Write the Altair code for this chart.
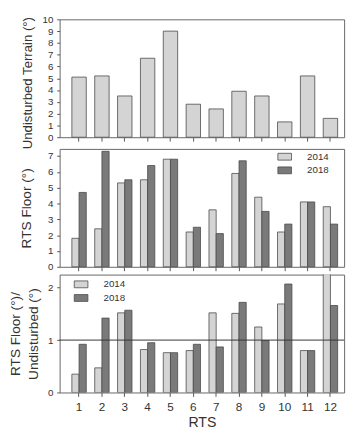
import altair as alt
import pandas as pd

rts = list(range(1, 13))
years = ["2014", "2018"]
undisturbed = [5.1, 5.2, 3.5, 6.7, 9.0, 2.8, 2.4, 3.9, 3.5, 1.3, 5.2, 1.6]
floor_2014 = [1.8, 2.4, 5.3, 5.5, 6.8, 2.2, 3.6, 5.9, 4.4, 2.2, 4.1, 3.8]
floor_2018 = [4.7, 7.3, 5.5, 6.4, 6.8, 2.5, 2.1, 6.7, 3.5, 2.7, 4.1, 2.7]
ratio_2014 = [0.35, 0.47, 1.52, 0.82, 0.76, 0.80, 1.52, 1.51, 1.25, 1.69, 0.80, 2.38]
ratio_2018 = [0.92, 1.42, 1.57, 0.95, 0.76, 0.92, 0.87, 1.72, 0.99, 2.07, 0.80, 1.66]
reference_line = [1]

LIGHT = "#d4d4d4"
DARK = "#7a7a7a"
STROKE = "#4a4a4a"
FONT = "Liberation Sans"
W, H = 292, 121

df1 = pd.DataFrame({"RTS": rts, "value": undisturbed})
df2 = pd.DataFrame({"RTS": rts * 2, "year": [years[0]] * 12 + [years[1]] * 12,
                    "value": floor_2014 + floor_2018})
df3 = pd.DataFrame({"RTS": rts * 2, "year": [years[0]] * 12 + [years[1]] * 12,
                    "value": ratio_2014 + ratio_2018})
dfr = pd.DataFrame({"y": reference_line})

xscale = alt.Scale(paddingInner=0.37, paddingOuter=0.41, align=0.653)


def xaxis(show):
    if show:
        return alt.Axis(title="RTS", labelAngle=0, domain=False, tickSize=4,
                        tickColor="#555", labelFontSize=12, labelPadding=6,
                        titleFontSize=14.5, titleFontWeight="normal", titlePadding=3,
                        labelColor="#333", titleColor="#333")
    return alt.Axis(title=None, labels=False, domain=False, tickSize=4, tickColor="#555")


def yaxis(title, values, tx, tsize=14, ty=None):
    kw = {} if ty is None else {"titleY": ty}
    return alt.Axis(title=title, values=values, format="d", domain=False, grid=False,
                    tickSize=3, tickColor="#555", labelFontSize=10, labelPadding=4,
                    labelColor="#333", titleFontSize=tsize, titleFontWeight="normal",
                    titleColor="#333", titleX=tx, titleBaseline="middle",
                    titleLineHeight=18, **kw)


def legend(lx, ly):
    return alt.Legend(title=None, orient="none", legendX=lx, legendY=ly,
                      symbolType="M-2,-1H2V1H-2Z", symbolSize=49,
                      symbolStrokeColor=STROKE, symbolStrokeWidth=0.8,
                      labelFontSize=10, labelColor="#333", labelOffset=18,
                      rowPadding=2, padding=0)


p1 = alt.Chart(df1).mark_bar(fill=LIGHT, stroke=STROKE, strokeWidth=0.8).encode(
    x=alt.X("RTS:O", scale=xscale, axis=xaxis(False)),
    y=alt.Y("value:Q", scale=alt.Scale(domain=[0, 10], nice=False),
            axis=yaxis("Undisturbed Terrain (°)", list(range(11)), -33, 13.5, 65)),
).properties(width=W, height=H)

p2 = alt.Chart(df2).mark_bar(stroke=STROKE, strokeWidth=0.8).encode(
    x=alt.X("RTS:O", scale=xscale, axis=xaxis(False)),
    xOffset=alt.XOffset("year:N", scale=alt.Scale(domain=years)),
    y=alt.Y("value:Q", scale=alt.Scale(domain=[0, 7.45], nice=False),
            axis=yaxis("RTS Floor (°)", list(range(8)), -34)),
    color=alt.Color("year:N", scale=alt.Scale(domain=years, range=[LIGHT, DARK]),
                    legend=legend(226, 3)),
).properties(width=W, height=H)

bars3 = alt.Chart(df3).mark_bar(stroke=STROKE, strokeWidth=0.8, clip=True).encode(
    x=alt.X("RTS:O", scale=xscale, axis=xaxis(True)),
    xOffset=alt.XOffset("year:N", scale=alt.Scale(domain=years)),
    y=alt.Y("value:Q", scale=alt.Scale(domain=[0, 2.25], nice=False),
            axis=yaxis(["RTS Floor (°)/", "Undisturbed (°)"], [0, 1, 2], -45)),
    color=alt.Color("year:N", scale=alt.Scale(domain=years, range=[LIGHT, DARK]),
                    legend=legend(17, 5)),
)
rule3 = alt.Chart(dfr).mark_rule(color="#333", strokeWidth=1).encode(y=alt.Y("y:Q"))
p3 = alt.layer(bars3, rule3).properties(width=W, height=H)

inner = alt.vconcat(p2, p3, spacing=8, bounds="flush").resolve_scale(color="independent")
chart = alt.vconcat(p1, inner, spacing=12, bounds="flush").properties(
    padding={"left": 0, "top": 0, "right": 4, "bottom": 0}
).configure(font=FONT).configure_view(stroke="#666", strokeWidth=1)

chart.save("out.html", embed_options={"renderer": "svg", "actions": False})
